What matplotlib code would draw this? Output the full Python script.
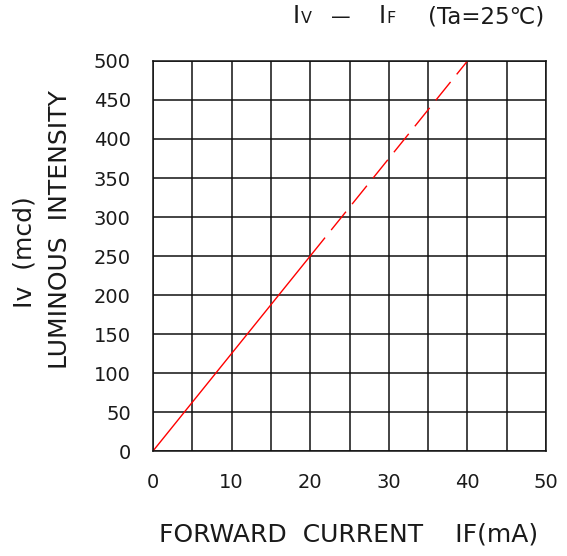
#!/usr/bin/env python3
"""Iv - IF characteristic chart (luminous intensity vs forward current)."""

import matplotlib
matplotlib.use("Agg")
import matplotlib.pyplot as plt

# data
current_solid = [0, 20]
intensity_solid = [0, 250]
current_dashed = [20, 40]
intensity_dashed = [250, 500]

x_ticks = [0, 10, 20, 30, 40, 50]
y_ticks = [0, 50, 100, 150, 200, 250, 300, 350, 400, 450, 500]

TEXT = "#1a1a1a"
plt.rcParams.update({
    "font.family": "DejaVu Sans",
    "font.size": 13,
})

fig = plt.figure(figsize=(5.67, 5.56), dpi=100)
ax = fig.add_axes([0.2698, 0.1888, 0.6933, 0.7015])

ax.set_xlim(0, 50)
ax.set_ylim(0, 500)
ax.set_xticks(range(0, 51, 5))
ax.set_yticks(range(0, 501, 50))
ax.grid(True, color="#111111", linewidth=1.1)
ax.set_axisbelow(True)
for sp in ax.spines.values():
    sp.set_color("#111111")
    sp.set_linewidth(1.1)

# labels only every 10 on x
ax.set_xticklabels([str(v) if v in x_ticks else "" for v in range(0, 51, 5)])
ax.set_yticklabels([str(v) for v in y_ticks])
ax.tick_params(axis="both", length=0, labelsize=14, colors=TEXT)
ax.tick_params(axis="x", pad=16)
ax.tick_params(axis="y", pad=16)

ax.plot(current_solid, intensity_solid, color="#ff0000", linewidth=1.0)
ax.plot(current_dashed, intensity_dashed, color="#ff0000", linewidth=1.0,
        dashes=(17, 7))

# axis labels
fig.text(0.614, 0.038, "FORWARD  CURRENT    IF(mA)", ha="center", va="center",
         fontsize=18, color=TEXT)
fig.text(0.044, 0.547, "Iv  (mcd)", rotation=90, ha="center", va="center",
         fontsize=18, color=TEXT)
fig.text(0.106, 0.587, "LUMINOUS  INTENSITY", rotation=90, ha="center",
         va="center", fontsize=18, color=TEXT)

# title pieces (small V / F like the reference)
ty = 0.958
fig.text(0.516, ty, "I", ha="left", va="baseline", fontsize=17, color=TEXT)
fig.text(0.530, ty, "V", ha="left", va="baseline", fontsize=11.5, color=TEXT)
fig.text(0.583, ty, "—", ha="left", va="baseline", fontsize=14, color=TEXT)
fig.text(0.667, ty, "I", ha="left", va="baseline", fontsize=17, color=TEXT)
fig.text(0.681, ty, "F", ha="left", va="baseline", fontsize=11.5, color=TEXT)
fig.text(0.755, ty, "(Ta=25℃)", ha="left", va="baseline", fontsize=16.5,
         color=TEXT)

fig.savefig("out.png", dpi=100, facecolor="white")
